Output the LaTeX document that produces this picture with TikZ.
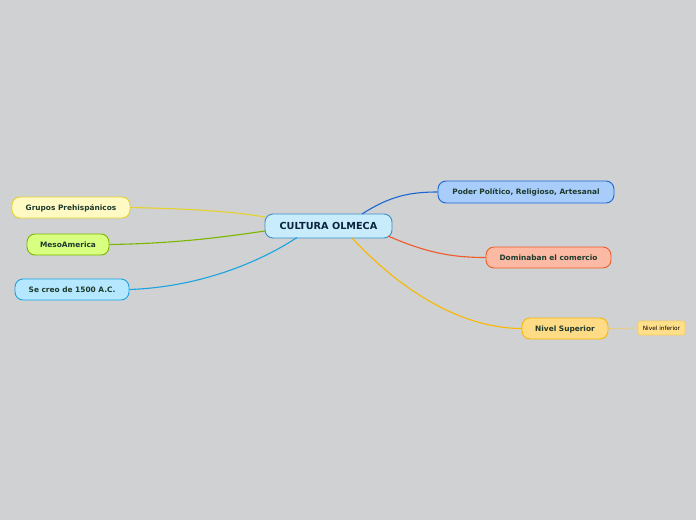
\documentclass[tikz,border=0pt]{standalone}
\usepackage{fontspec}
\setmainfont{DejaVu Sans}
\definecolor{bg}{HTML}{D0D1D3}
\definecolor{txt}{HTML}{1E3A2C}
\definecolor{navy}{HTML}{0C2340}
\definecolor{cfill}{HTML}{C8ECFB}\definecolor{cline}{HTML}{3A8FC8}
\definecolor{gfill}{HTML}{FFF9C4}\definecolor{gline}{HTML}{E6D22A}
\definecolor{mfill}{HTML}{D8FF80}\definecolor{mline}{HTML}{7AB800}
\definecolor{sfill}{HTML}{B5E8FF}\definecolor{sline}{HTML}{1AA3E0}
\definecolor{pfill}{HTML}{A8CDFA}\definecolor{pline}{HTML}{1A66D6}
\definecolor{dfill}{HTML}{FCBAA5}\definecolor{dline}{HTML}{F05A28}
\definecolor{nfill}{HTML}{FFDB85}\definecolor{nline}{HTML}{F9B800}
\definecolor{ifill}{HTML}{FFDF8A}\definecolor{iline}{HTML}{F5CD5C}
\tikzset{
  topic/.style={draw, line width=0.9pt, rounded corners=8pt, minimum height=21pt, inner xsep=0pt, text height=6.2pt, text depth=0.8pt, font=\bfseries\fontsize{7.4}{8}\selectfont, text=txt, anchor=center},
  conn/.style={line width=1.1pt},
}
\begin{document}
\begin{tikzpicture}[x=1pt,y=-1pt]
\fill[bg] (0,0) rectangle (696,520);
\useasboundingbox (0,0) rectangle (696,520);

\node[topic, draw=cline, fill=cfill, minimum width=127pt, minimum height=24pt, text=navy, text height=7.6pt, text depth=0.3pt, font=\bfseries\fontsize{9.7}{11}\selectfont] (c) at (328.5,226) {CULTURA OLMECA};
\node[topic, draw=gline, fill=gfill, minimum width=118pt] (g) at (71,207.5) {Grupos Prehispánicos};
\node[topic, draw=mline, fill=mfill, minimum width=82pt] (m) at (68,244.5) {MesoAmerica};
\node[topic, draw=sline, fill=sfill, minimum width=114pt] (s) at (72,289.5) {Se creo de 1500 A.C.};
\node[topic, draw=pline, fill=pfill, minimum width=176pt, minimum height=22pt] (p) at (526,192) {Poder Político, Religioso, Artesanal};
\node[topic, draw=dline, fill=dfill, minimum width=125pt] (d) at (548.5,257.5) {Dominaban el comercio};
\node[topic, draw=nline, fill=nfill, minimum width=86pt] (n) at (565,328.5) {Nivel Superior};
\node[draw=iline, fill=ifill, line width=0.6pt, rounded corners=1.5pt, minimum width=47pt, minimum height=14pt, inner xsep=0pt, text=black, font=\fontsize{5.8}{6.5}\selectfont] (i) at (661.5,328) {Nivel inferior};

\coordinate (cg) at (265,217);
\coordinate (cm) at (265,231);
\coordinate (cs) at (297,237.5);
\coordinate (cp) at (362,214);
\coordinate (cd) at (388,236);
\coordinate (cn) at (352,238);

\draw[conn, draw=gline] (g.east) .. controls (200,209) and (235,212) .. (cg);
\draw[conn, draw=mline] (m.east) .. controls (180,243.5) and (230,236) .. (cm);
\draw[conn, draw=sline] (s.east) .. controls (200,287) and (260,262) .. (cs);
\draw[conn, draw=pline] (cp) .. controls (390,196) and (410,192) .. (p.west);
\draw[conn, draw=dline] (cd) .. controls (425,252) and (450,257.5) .. (d.west);
\draw[conn, draw=nline] (cn) .. controls (410,300) and (470,328.5) .. (n.west);
\draw[line width=0.6pt, draw=iline] (n.east) -- (i.west);
\end{tikzpicture}
\end{document}
